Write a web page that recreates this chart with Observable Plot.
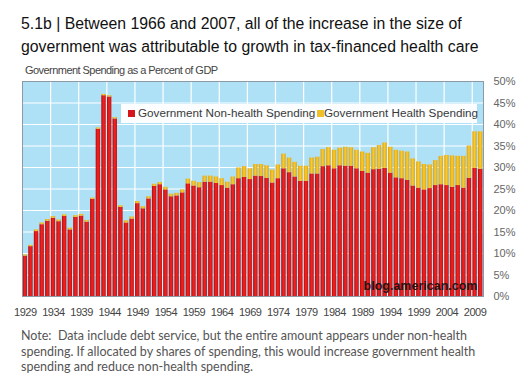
<!DOCTYPE html>
<html>
<head>
<meta charset="utf-8">
<script src="https://cdn.jsdelivr.net/npm/d3@7"></script>
<script src="https://cdn.jsdelivr.net/npm/@observablehq/plot@0.6"></script>
<style>
  html, body { margin: 0; padding: 0; background: #fff; }
  #page { position: relative; width: 525px; height: 387px; overflow: hidden; font-family: Arial, "Liberation Sans", sans-serif; }
  .title { position: absolute; left: 21px; font-size: 15.8px; color: #111; white-space: nowrap; }
  #subtitle { position: absolute; left: 25px; top: 64px; font-size: 11px; color: #444; letter-spacing: -0.55px; white-space: nowrap; }
  #chart { position: absolute; left: 0; top: 76px; }
  #legend { position: absolute; left: 121px; top: 104px; width: 356px; height: 19px; background: #fbfdfe; }
  .sw { position: absolute; top: 6px; width: 7px; height: 7px; }
  .lt { position: absolute; top: 2px; font-size: 11.7px; color: #3a3a3a; white-space: nowrap; }
  #note { position: absolute; left: 21px; top: 328px; font-family: Lato, "Open Sans", sans-serif; font-size: 12.5px; line-height: 15.5px; color: #555; white-space: nowrap; }
  #chart [aria-label="x-axis tick label"] text { letter-spacing: -0.5px; }
</style>
</head>
<body>
<svg width="0" height="0" style="position:absolute">
  <defs>
    <linearGradient id="redGrad" x1="0" x2="1" y1="0" y2="0">
      <stop offset="0" stop-color="#a80e12"/>
      <stop offset="0.45" stop-color="#f2211f"/>
      <stop offset="0.75" stop-color="#e61b1b"/>
      <stop offset="1" stop-color="#b01214"/>
    </linearGradient>
    <linearGradient id="yelGrad" x1="0" x2="1" y1="0" y2="0">
      <stop offset="0" stop-color="#d9a216"/>
      <stop offset="0.5" stop-color="#f8cb32"/>
      <stop offset="1" stop-color="#dba619"/>
    </linearGradient>
  </defs>
</svg>
<div id="page">
  <div class="title" style="top:15px">5.1b | Between 1966 and 2007, all of the increase in the size of</div>
  <div class="title" style="top:38px">government was attributable to growth in tax-financed health care</div>
  <div id="subtitle">Government Spending as a Percent of GDP</div>
  <div id="chart"></div>
  <div id="legend">
    <div class="sw" style="left:7px;background:#d4151a"></div>
    <div class="lt" style="left:17px">Government Non-health Spending</div>
    <div class="sw" style="left:196px;background:#efc02a"></div>
    <div class="lt" style="left:203px">Government Health Spending</div>
  </div>
  <div id="note">Note:&nbsp; Data include debt service, but the entire amount appears under non-health<br>spending. If allocated by shares of spending, this would increase government health<br>spending and reduce non-health spending.</div>
</div>
<script>
const years = d3.range(1929, 2011);
const nonHealth = [
  9.4, 11.6, 15.1, 16.7, 17.5, 18.2, 17.4, 18.6, 15.5, 18.4,
  18.7, 17.3, 22.6, 38.9, 46.7, 46.4, 41.3, 20.7, 17.1, 18.0,
  21.6, 20.4, 22.7, 25.6, 26.0, 24.8, 23.2, 23.4, 24.1, 26.2,
  25.7, 25.3, 26.6, 26.6, 26.3, 25.8, 25.2, 26.0, 27.4, 27.7,
  27.2, 28.0, 27.9, 27.5, 26.4, 27.4, 29.7, 28.8, 27.8, 26.8,
  26.8, 28.5, 28.5, 30.2, 30.4, 29.7, 30.4, 30.3, 30.3, 29.7,
  29.1, 28.7, 29.5, 29.6, 29.8, 28.7, 27.6, 27.4, 27.0, 25.7,
  25.2, 24.8, 25.1, 25.8, 26.0, 25.8, 25.4, 25.8, 25.2, 27.5,
  29.8, 29.6
];
const health = [
  0.3, 0.3, 0.4, 0.4, 0.4, 0.4, 0.4, 0.4, 0.4, 0.4,
  0.4, 0.4, 0.3, 0.3, 0.3, 0.3, 0.3, 0.4, 0.5, 0.5,
  0.5, 0.5, 0.5, 0.5, 0.5, 0.6, 0.6, 0.6, 0.7, 1.1,
  1.1, 1.2, 1.4, 1.4, 1.5, 1.6, 1.4, 1.8, 2.5, 2.5,
  2.5, 2.7, 2.8, 2.9, 3.0, 3.2, 3.4, 3.4, 3.4, 3.5,
  3.5, 3.7, 3.9, 4.0, 4.2, 4.3, 4.1, 4.4, 4.3, 4.3,
  4.5, 4.6, 5.1, 5.5, 5.9, 6.0, 6.4, 6.4, 6.6, 6.3,
  6.1, 5.9, 5.5, 5.8, 6.6, 7.0, 7.3, 6.8, 7.4, 7.5,
  8.5, 8.7
];
const xTickYears = [1929, 1934, 1939, 1944, 1949, 1954, 1959, 1964, 1969, 1974, 1979, 1984, 1989, 1994, 1999, 2004, 2009];
const yTicks = [0, 5, 10, 15, 20, 25, 30, 35, 40, 45, 50];
const watermark = ["blog.american.com"];

const rows = years.map((year, i) => ({year, nonHealth: nonHealth[i], health: health[i]}));
const gridX = xTickYears.slice(1).map(y => y - 0.5);

const chart = Plot.plot({
  width: 525,
  height: 250,
  marginTop: 5,
  marginBottom: 30,
  marginLeft: 22,
  marginRight: 42,
  style: {fontFamily: "Arial, 'Liberation Sans', sans-serif", color: "#555", background: "transparent"},
  x: {type: "linear", domain: [1928.5, 2010.5], label: null},
  y: {domain: [0, 50], label: null},
  marks: [
    Plot.frame({fill: "#aee1f6", stroke: null}),
    Plot.ruleY(yTicks.filter(d => d > 0 && d < 50), {stroke: "#ffffff", strokeWidth: 1.2}),
    Plot.ruleX(gridX, {stroke: "#ffffff", strokeWidth: 1.2}),
    Plot.rect(rows, {x1: d => d.year - 0.5, x2: d => d.year + 0.5, y1: 0, y2: "nonHealth", fill: "url(#redGrad)", insetLeft: 0.6, insetRight: 0.6}),
    Plot.rect(rows, {x1: d => d.year - 0.5, x2: d => d.year + 0.5, y1: "nonHealth", y2: d => d.nonHealth + d.health, fill: "url(#yelGrad)", insetLeft: 0.6, insetRight: 0.6}),
    Plot.text(watermark, {frameAnchor: "bottom-right", dx: -6, dy: -7, fontSize: 12.5, fontWeight: "bold", fill: "#2a1212", textAnchor: "end"}),
    Plot.frame({stroke: "#8d9aa5", strokeWidth: 1}),
    Plot.axisX(xTickYears, {tickSize: 0, tickPadding: 12, tickFormat: d => String(d), fontSize: 11, color: "#444", label: null}),
    Plot.axisY(yTicks, {anchor: "right", tickSize: 0, tickPadding: 10, tickFormat: d => d + "%", fontSize: 11, color: "#666", label: null})
  ]
});
document.getElementById("chart").appendChild(chart);
</script>
</body>
</html>
